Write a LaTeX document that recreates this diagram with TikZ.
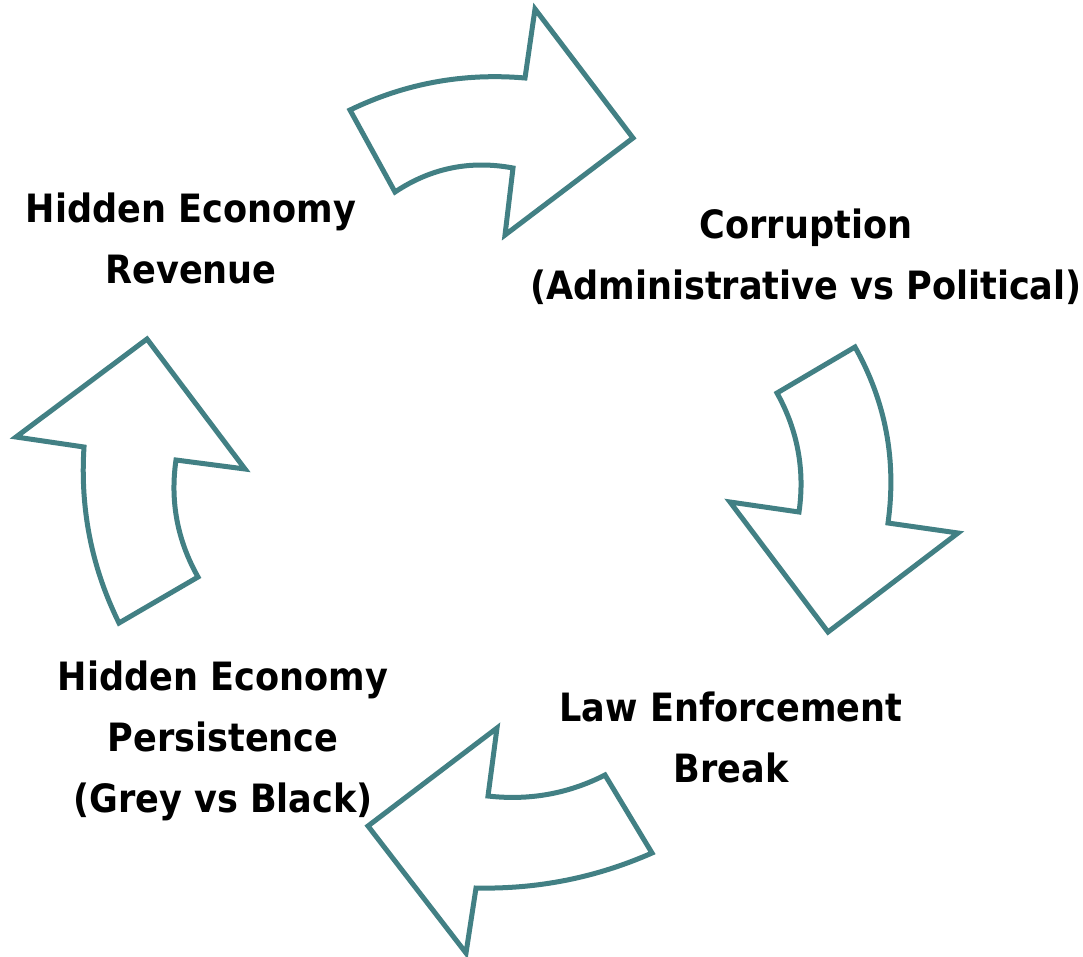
\documentclass[tikz,border=0pt]{standalone}
\usepackage{fontspec}
\setmainfont{DejaVu Sans Condensed}
\definecolor{arrowteal}{RGB}{66,128,132}
\tikzset{
  cyclearrow/.style={draw=arrowteal, line width=5pt, line join=miter, fill=white},
  steplabel/.style={font=\bfseries\fontsize{39}{61}\selectfont, align=center, inner sep=0pt, text=black}
}
\begin{document}
\begin{tikzpicture}[x=1pt,y=-1pt]
\useasboundingbox (0,0) rectangle (1083,956);
% top arrow
\draw[cyclearrow] (350,110) .. controls (405.3,83.3) and (463.7,72.7) .. (525,78) -- (535,9) -- (633,138) -- (505,235) -- (513,168) .. controls (470.3,160) and (431,168) .. (395,192) -- cycle;
% right arrow
\draw[cyclearrow] (777,393) -- (855,347) .. controls (885.7,401.7) and (896.7,460.3) .. (888,523) -- (958,533) -- (828,632) -- (730,502) -- (799,512) .. controls (805,470) and (797.7,430.3) .. (777,393) -- cycle;
% bottom arrow
\draw[cyclearrow] (605,775) -- (652,853) .. controls (596,877.7) and (537.3,889.3) .. (476,888) -- (466,953) -- (368,826) -- (497,728) -- (488,796) .. controls (529.3,800.7) and (568.3,793.7) .. (605,775) -- cycle;
% left arrow
\draw[cyclearrow] (119,623) .. controls (91.7,567.7) and (80,509) .. (84,447) -- (16,437) -- (147,339) -- (245,469) -- (176,460) .. controls (170,501.3) and (177.3,540.3) .. (198,577) -- cycle;
% labels
\node[steplabel] (revenue) at (191,238) {Hidden Economy\\Revenue};
\node[steplabel] (corruption) at (806,257) {Corruption\\(Administrative vs Political)};
\node[steplabel] (lawbreak) at (731,737) {Law Enforcement\\Break};
\node[steplabel] (persistence) at (223,741) {Hidden Economy\\Persistence\\(Grey vs Black)};
\end{tikzpicture}
\end{document}
